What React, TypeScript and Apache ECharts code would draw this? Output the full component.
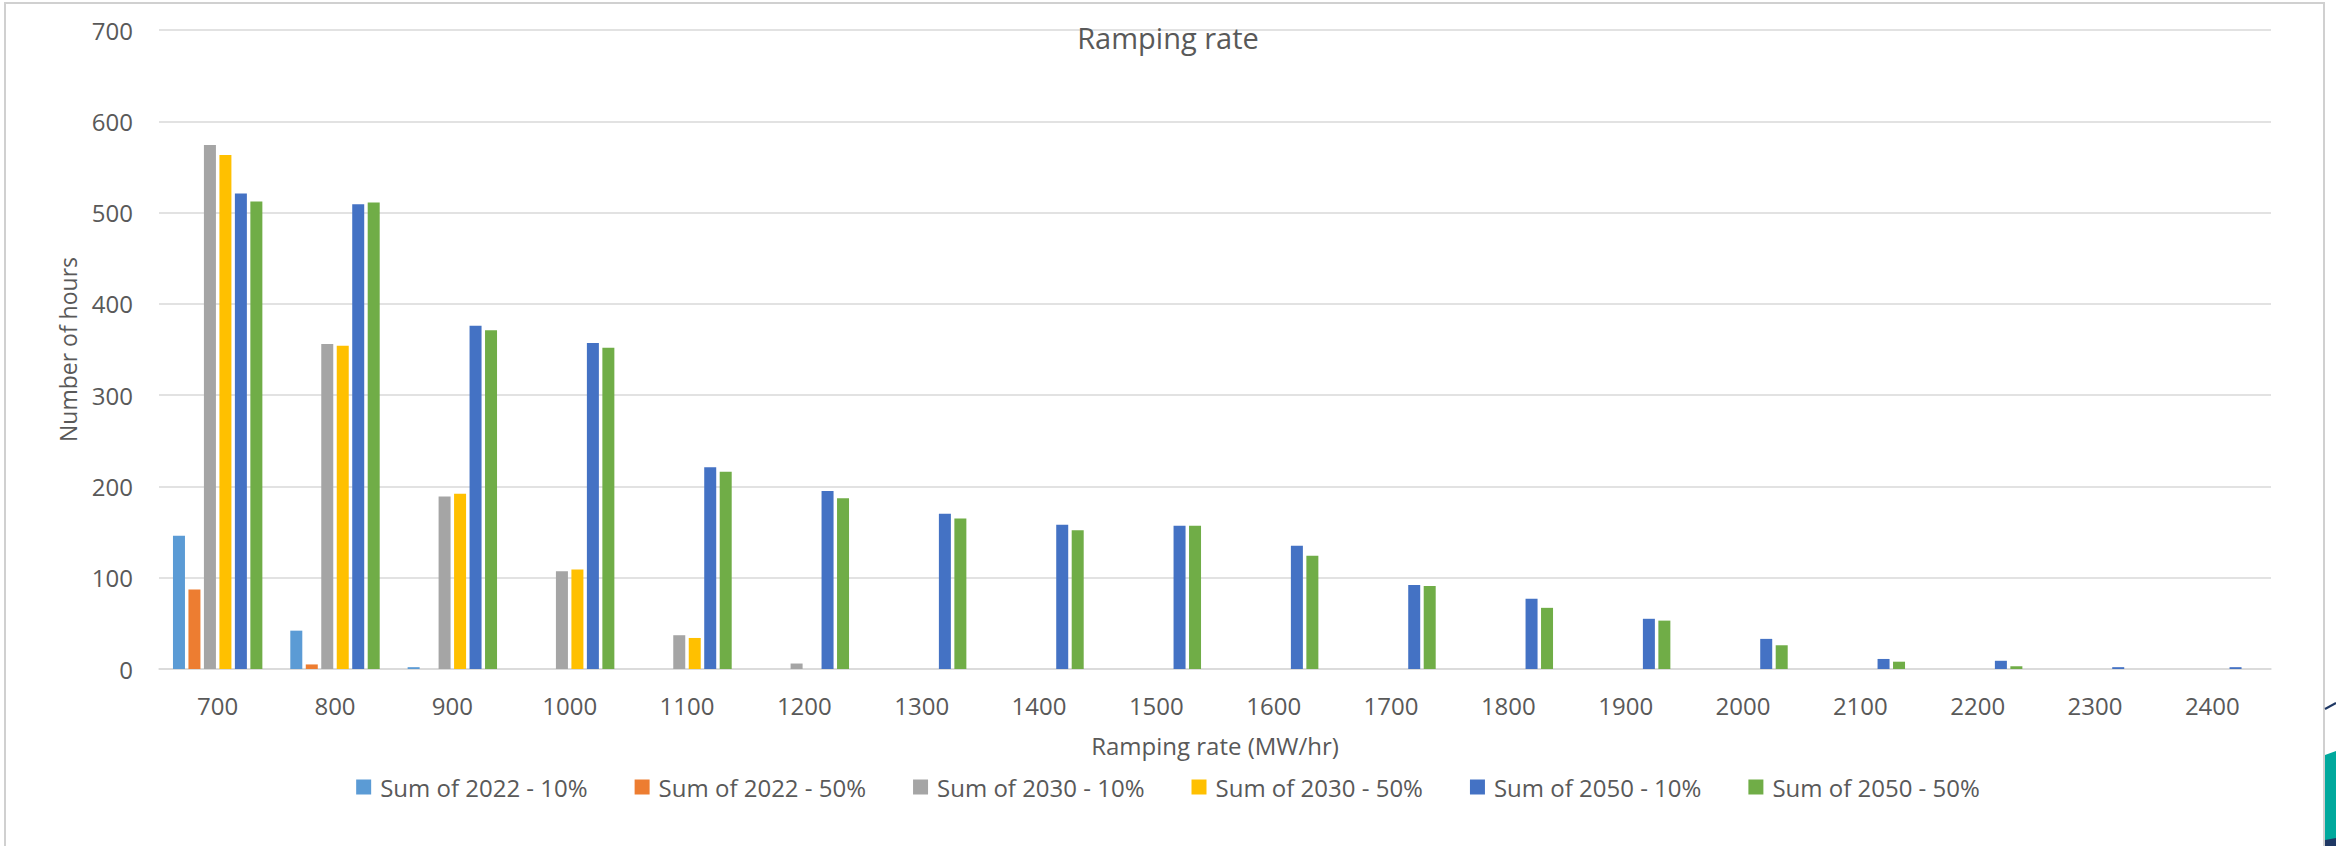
import React, { useEffect, useRef } from "react";
import * as echarts from "echarts";

// Ramping-rate bins (MW/hr)
const categories = [
  "700", "800", "900", "1000", "1100", "1200", "1300", "1400", "1500",
  "1600", "1700", "1800", "1900", "2000", "2100", "2200", "2300", "2400",
];

// Hours per bin for each scenario
const s2022_10 = [146, 42, 2, 0, 0, 0, 0, 0, 0, 0, 0, 0, 0, 0, 0, 0, 0, 0];
const s2022_50 = [87, 5, 0, 0, 0, 0, 0, 0, 0, 0, 0, 0, 0, 0, 0, 0, 0, 0];
const s2030_10 = [574, 356, 189, 107, 37, 6, 0, 0, 0, 0, 0, 0, 0, 0, 0, 0, 0, 0];
const s2030_50 = [563, 354, 192, 109, 34, 0, 0, 0, 0, 0, 0, 0, 0, 0, 0, 0, 0, 0];
const s2050_10 = [521, 509, 376, 357, 221, 195, 170, 158, 157, 135, 92, 77, 55, 33, 11, 9, 2, 2];
const s2050_50 = [512, 511, 371, 352, 216, 187, 165, 152, 157, 124, 91, 67, 53, 26, 8, 3, 0, 0];

const seriesNames = [
  "Sum of 2022 - 10%",
  "Sum of 2022 - 50%",
  "Sum of 2030 - 10%",
  "Sum of 2030 - 50%",
  "Sum of 2050 - 10%",
  "Sum of 2050 - 50%",
];
const seriesData = [s2022_10, s2022_50, s2030_10, s2030_50, s2050_10, s2050_50];
const colors = ["#5B9BD5", "#ED7D31", "#A5A5A5", "#FFC000", "#4472C4", "#70AD47"];

const yTicks = { min: 0, max: 700, interval: 100 };

const FONT = "'Open Sans', 'Noto Sans', sans-serif";
const TEXT = "#595959";
const GRID = "#D9D9D9";

export default function App() {
  const ref = useRef<HTMLDivElement>(null);

  useEffect(() => {
    if (!ref.current) return;
    const chart = echarts.init(ref.current, undefined, { renderer: "svg" });

    chart.setOption({
      animation: false,
      backgroundColor: "#FFFFFF",
      color: colors,
      title: {
        text: "Ramping rate",
        left: "center",
        top: 18,
        textStyle: { fontFamily: FONT, fontSize: 29, fontWeight: "normal", color: TEXT },
      },
      legend: {
        left: "center",
        top: 770,
        icon: "rect",
        itemWidth: 15,
        itemHeight: 15,
        itemGap: 47,
        data: seriesNames,
        textStyle: {
          fontFamily: FONT,
          fontSize: 24,
          color: TEXT,
          padding: [0, 0, 0, 4],
        },
      },
      grid: { left: 159, right: 65, top: 30, bottom: 177, containLabel: false },
      xAxis: {
        type: "category",
        data: categories,
        name: "Ramping rate (MW/hr)",
        nameLocation: "middle",
        nameGap: 64,
        nameTextStyle: { fontFamily: FONT, fontSize: 24, color: TEXT },
        axisLine: { show: true, lineStyle: { color: GRID, width: 1.5 } },
        axisTick: { show: false },
        axisLabel: { fontFamily: FONT, fontSize: 24, color: TEXT, margin: 24 },
      },
      yAxis: {
        type: "value",
        min: yTicks.min,
        max: yTicks.max,
        interval: yTicks.interval,
        name: "Number of hours",
        nameLocation: "middle",
        nameGap: 80,
        nameTextStyle: { fontFamily: FONT, fontSize: 23, color: TEXT },
        axisLine: { show: false },
        axisTick: { show: false },
        axisLabel: { fontFamily: FONT, fontSize: 24, color: TEXT, margin: 26 },
        splitLine: { lineStyle: { color: GRID, width: 1.5 } },
      },
      series: seriesNames.map((name, i) => ({
        name,
        type: "bar",
        data: seriesData[i],
        barWidth: 12,
        barGap: "29%",
        itemStyle: { color: colors[i] },
      })),
      graphic: [
        {
          type: "rect",
          silent: true,
          shape: { x: 5, y: 3, width: 2319, height: 900 },
          style: { fill: "none", stroke: "#D0D0D0", lineWidth: 2 },
        },
        {
          type: "polygon",
          silent: true,
          shape: { points: [[2325, 755], [2336, 751], [2336, 846], [2325, 846]] },
          style: { fill: "#00A99D" },
        },
        {
          type: "polygon",
          silent: true,
          shape: { points: [[2325, 840], [2336, 838], [2336, 846], [2325, 846]] },
          style: { fill: "#1F3864" },
        },
        {
          type: "polyline",
          silent: true,
          shape: { points: [[2325, 709], [2336, 703]] },
          style: { stroke: "#1F3864", lineWidth: 2, fill: "none" },
        },
      ],
    });

    return () => chart.dispose();
  }, []);

  return (
    <div
      ref={ref}
      style={{ position: "absolute", left: 0, top: 0, width: 2336, height: 846 }}
    />
  );
}
